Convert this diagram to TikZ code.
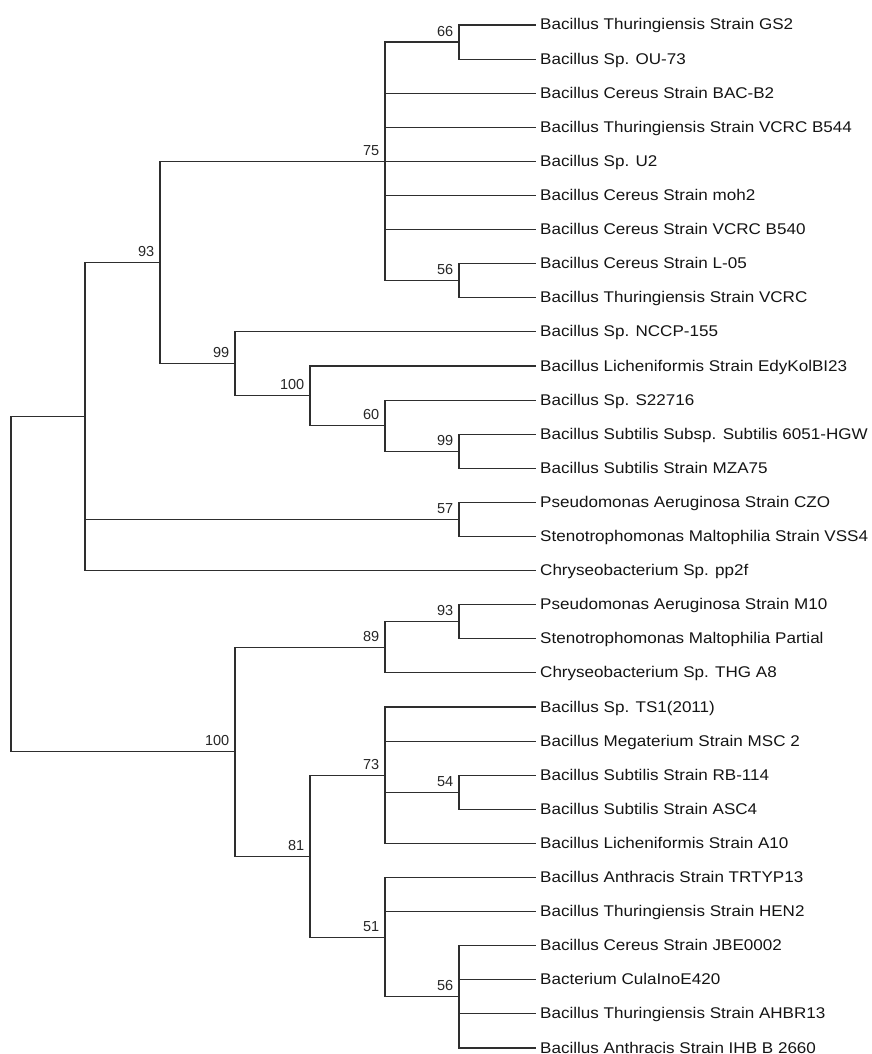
\documentclass[tikz,border=0pt]{standalone}
\usepackage{fontspec}
\setmainfont{Liberation Sans}
\newfontfamily\leaffont[FakeStretch=1.1]{Liberation Sans}
\newfontfamily\bootfont{Liberation Sans}
\begin{document}
\begin{tikzpicture}[x=1pt,y=-1pt,
  branch/.style={draw=black!82, line width=1.1pt},
  leaf/.style={anchor=base west, inner sep=0pt, text=black!92, font=\leaffont\fontsize{15.5}{18}\selectfont},
  boot/.style={anchor=base east, inner sep=0pt, text=black!85, font=\bootfont\fontsize{14.5}{17}\selectfont}]
\path[use as bounding box] (0,0) rectangle (872,1054);
% leaves
\foreach \t [count=\i from 0] in {
  Bacillus Thuringiensis Strain GS2,
  Bacillus Sp. OU-73,
  Bacillus Cereus Strain BAC-B2,
  Bacillus Thuringiensis Strain VCRC B544,
  Bacillus Sp. U2,
  Bacillus Cereus Strain moh2,
  Bacillus Cereus Strain VCRC B540,
  Bacillus Cereus Strain L-05,
  Bacillus Thuringiensis Strain VCRC,
  Bacillus Sp. NCCP-155,
  Bacillus Licheniformis Strain EdyKolBI23,
  Bacillus Sp. S22716,
  Bacillus Subtilis Subsp. Subtilis 6051-HGW,
  Bacillus Subtilis Strain MZA75,
  Pseudomonas Aeruginosa Strain CZO,
  Stenotrophomonas Maltophilia Strain VSS4,
  Chryseobacterium Sp. pp2f,
  Pseudomonas Aeruginosa Strain M10,
  Stenotrophomonas Maltophilia Partial,
  Chryseobacterium Sp. THG A8,
  Bacillus Sp. TS1(2011),
  Bacillus Megaterium Strain MSC 2,
  Bacillus Subtilis Strain RB-114,
  Bacillus Subtilis Strain ASC4,
  Bacillus Licheniformis Strain A10,
  Bacillus Anthracis Strain TRTYP13,
  Bacillus Thuringiensis Strain HEN2,
  Bacillus Cereus Strain JBE0002,
  Bacterium CulaInoE420,
  Bacillus Thuringiensis Strain AHBR13,
  Bacillus Anthracis Strain IHB B 2660}{
  \coordinate (e\i) at (536,{25+34.1*\i});
  \node[leaf] (t\i) at (540,{25+34.1*\i+5}) {\t};
}
% internal nodes
\coordinate (n66)  at (459,42.05);
\coordinate (n56a) at (459,280.75);
\coordinate (n75)  at (385,161.4);
\coordinate (n99b) at (459,451.25);
\coordinate (n60)  at (385,425.7);
\coordinate (n100a) at (310,395.8);
\coordinate (n99a) at (235,363.9);
\coordinate (n93a) at (160,262.6);
\coordinate (n57)  at (459,519.45);
\coordinate (ntop) at (85,416.6);
\coordinate (n93b) at (459,621.75);
\coordinate (n89)  at (385,647.3);
\coordinate (n54)  at (459,792.25);
\coordinate (n73)  at (385,775.2);
\coordinate (n56b) at (459,996.85);
\coordinate (n51)  at (385,937.2);
\coordinate (n81)  at (310,856.2);
\coordinate (n100b) at (235,751.75);
\coordinate (root) at (11,584.2);
% branches
\draw[branch] (n66) |- (e0) (n66) |- (e1);
\draw[branch] (n56a) |- (e7) (n56a) |- (e8);
\draw[branch] (n75) |- (n66) (n75) |- (e2) (n75) |- (e3) (n75) |- (e4) (n75) |- (e5) (n75) |- (e6) (n75) |- (n56a);
\draw[branch] (n99b) |- (e12) (n99b) |- (e13);
\draw[branch] (n60) |- (e11) (n60) |- (n99b);
\draw[branch] (n100a) |- (e10) (n100a) |- (n60);
\draw[branch] (n99a) |- (e9) (n99a) |- (n100a);
\draw[branch] (n93a) |- (n75) (n93a) |- (n99a);
\draw[branch] (n57) |- (e14) (n57) |- (e15);
\draw[branch] (ntop) |- (n93a) (ntop) |- (n57) (ntop) |- (e16);
\draw[branch] (n93b) |- (e17) (n93b) |- (e18);
\draw[branch] (n89) |- (n93b) (n89) |- (e19);
\draw[branch] (n54) |- (e22) (n54) |- (e23);
\draw[branch] (n73) |- (e20) (n73) |- (e21) (n73) |- (n54) (n73) |- (e24);
\draw[branch] (n56b) |- (e27) (n56b) |- (e28) (n56b) |- (e29) (n56b) |- (e30);
\draw[branch] (n51) |- (e25) (n51) |- (e26) (n51) |- (n56b);
\draw[branch] (n81) |- (n73) (n81) |- (n51);
\draw[branch] (n100b) |- (n89) (n100b) |- (n81);
\draw[branch] (root) |- (ntop) (root) |- (n100b);
% bootstrap values
\foreach \n/\v in {n66/66, n56a/56, n75/75, n99b/99, n60/60, n100a/100, n99a/99, n93a/93, n57/57, n93b/93, n89/89, n54/54, n73/73, n56b/56, n51/51, n81/81, n100b/100}{
  \node[boot] (b\n) at ([xshift=-5.5pt,yshift=6pt]\n) {\v};
}
\end{tikzpicture}
\end{document}
